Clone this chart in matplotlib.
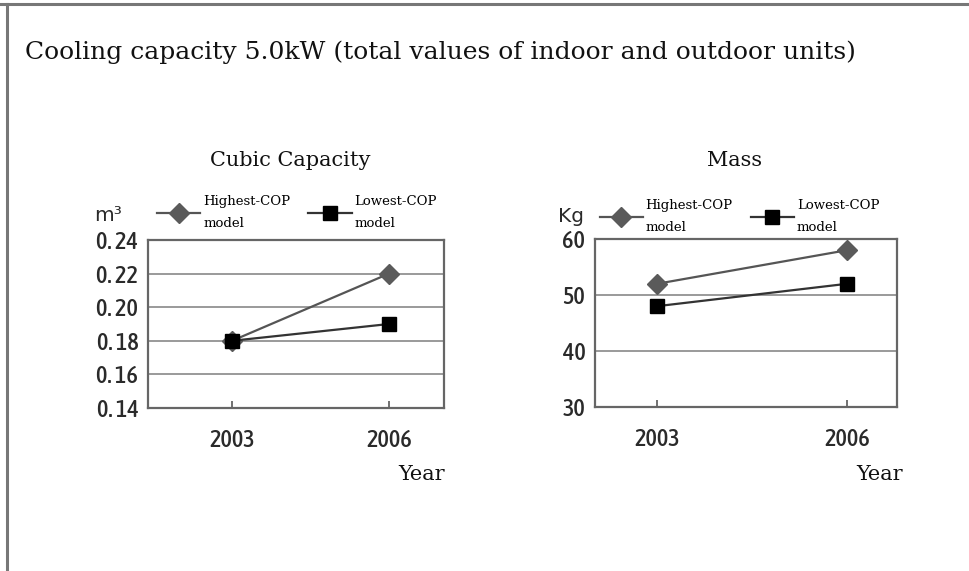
import matplotlib
matplotlib.use("Agg")
import matplotlib.pyplot as plt
from matplotlib.lines import Line2D
from matplotlib import font_manager as fm

# Data
years = ["2003", "2006"]
series_names = ["Highest-COP\nmodel", "Lowest-COP\nmodel"]

volume_highest = [0.18, 0.22]
volume_lowest = [0.18, 0.19]
volume_ticks = [0.14, 0.16, 0.18, 0.20, 0.22, 0.24]
volume_ticklabels = ["0. 14", "0. 16", "0. 18", "0. 20", "0. 22", "0. 24"]

mass_highest = [52, 58]
mass_lowest = [48, 52]
mass_ticks = [30, 40, 50, 60]
mass_ticklabels = ["30", "40", "50", "60"]

main_title = "Cooling capacity 5.0kW (total values of indoor and outdoor units)"
left_title = "Cubic Capacity"
right_title = "Mass"
x_label = "Year"


def narrow_sans(size):
    """Pick a condensed sans face if one is installed, else DejaVu Sans."""
    best = None
    for f in fm.fontManager.ttflist:
        name = f.name
        narrow = ("Narrow" in name or "Condensed" in name
                  or str(f.stretch) in ("condensed", "semi-condensed",
                                        "extra-condensed"))
        if not narrow or "Serif" in name or "Mono" in name:
            continue
        if f.style != "normal":
            continue
        try:
            w = int(f.weight)
        except (TypeError, ValueError):
            w = 400
        score = abs(w - 500)
        if best is None or score < best[0]:
            best = (score, f.fname)
    if best is not None:
        return fm.FontProperties(fname=best[1], size=size)
    return fm.FontProperties(family="DejaVu Sans", size=size)


SERIF = ["DejaVu Serif"]
tick_font = narrow_sans(17.5)
unit_font = fm.FontProperties(family="DejaVu Sans", size=14.5)

W, H = 969, 571
fig = plt.figure(figsize=(W / 100, H / 100), dpi=100)
fig.patch.set_facecolor("white")

# page border (top and left edges)
fig.add_artist(Line2D([0, 1], [1 - 4 / H, 1 - 4 / H], color="#777777", lw=2.2,
                      transform=fig.transFigure))
fig.add_artist(Line2D([7 / W, 7 / W], [0, 1 - 4 / H], color="#777777", lw=2.2,
                      transform=fig.transFigure))

fig.text(25 / W, 1 - 59 / H, main_title, fontsize=18, family=SERIF,
         ha="left", va="baseline", color="#111111")


def panel(rect, xlim, highest, lowest, ticks, ticklabels, ylim, title, title_x,
          unit, unit_xy, leg_anchor, year_x):
    ax = fig.add_axes(rect)
    x = list(range(len(years)))
    ax.set_xlim(*xlim)
    ax.set_ylim(*ylim)
    for t in ticks[1:-1]:
        ax.axhline(t, color="#9a9a9a", lw=1.4, zorder=1)
    ax.plot(x, highest, color="#555555", lw=1.6, marker="D", markersize=10,
            markerfacecolor="#5a5a5a", markeredgecolor="#5a5a5a", zorder=3,
            label=series_names[0])
    ax.plot(x, lowest, color="#333333", lw=1.6, marker="s", markersize=9.5,
            markerfacecolor="#000000", markeredgecolor="#000000", zorder=4,
            label=series_names[1])
    ax.set_xticks(x)
    ax.set_xticklabels(years, fontproperties=tick_font, color="#2a2a2a")
    ax.set_yticks(ticks)
    ax.set_yticklabels(ticklabels, fontproperties=tick_font, color="#2a2a2a")
    ax.tick_params(axis="x", direction="in", length=5, width=1.3,
                   color="#666666", pad=15)
    ax.tick_params(axis="y", length=0, pad=7)
    for s in ax.spines.values():
        s.set_color("#666666")
        s.set_linewidth(1.6)

    fig.text(title_x / W, 1 - 166 / H, title, family=SERIF, fontsize=15,
             ha="center", va="baseline", color="#111111")
    fig.text(unit_xy[0] / W, 1 - unit_xy[1] / H, unit, fontproperties=unit_font,
             ha="center", va="center", color="#2a2a2a")
    fig.text(year_x / W, 1 - 475 / H, x_label, family=SERIF, fontsize=15,
             ha="center", va="center", color="#111111")

    leg = ax.legend(loc="lower left", bbox_to_anchor=leg_anchor, ncol=2,
                    frameon=False, prop={"family": SERIF, "size": 9.5},
                    handlelength=3.3, handletextpad=0.2, columnspacing=1.35,
                    borderpad=0, borderaxespad=0)
    for t in leg.get_texts():
        t.set_linespacing(1.9)
    return ax


panel([148 / W, 1 - 408 / H, 296 / W, 168 / H], (-0.535, 1.350),
      volume_highest, volume_lowest, volume_ticks, volume_ticklabels,
      (0.14, 0.24), left_title, 290, "m³", (108, 215), (0.03, 1.06), 422)

panel([595 / W, 1 - 407 / H, 302 / W, 168 / H], (-0.326, 1.263),
      mass_highest, mass_lowest, mass_ticks, mass_ticklabels,
      (30, 60), right_title, 735, "Kg", (571, 217), (0.015, 1.03), 880)

fig.savefig("out.png", dpi=100, facecolor="white")
